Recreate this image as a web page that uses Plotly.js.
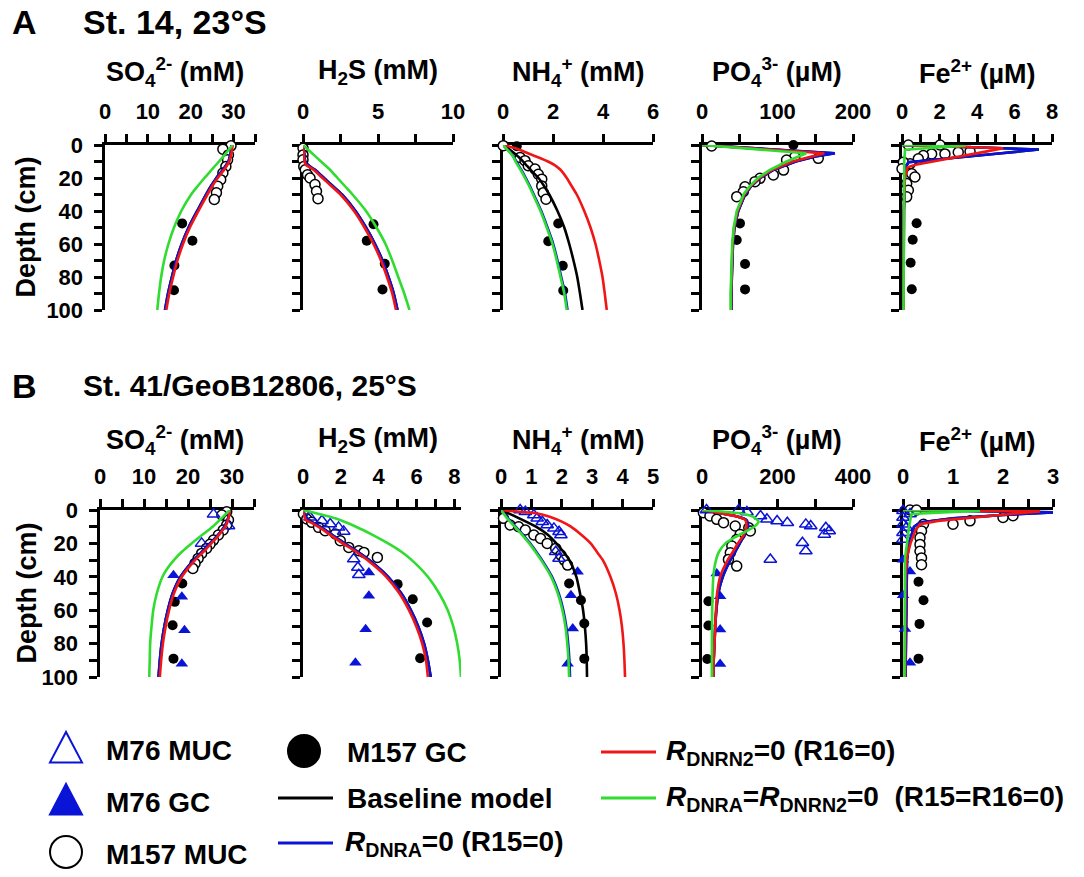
<!DOCTYPE html>
<html>
<head>
<meta charset="utf-8">
<script src="https://cdn.plot.ly/plotly-3.0.1.min.js"></script>
<style>html,body{margin:0;padding:0;background:#fff;}#chart{width:1084px;height:877px;}</style>
</head>
<body>
<div id="chart"></div>
<script>
// ================= DATA =================
const depthTicks = [0,20,40,60,80,100];
const depthMinor = [10,30,50,70,90];

// ---- Row A: St. 14, 23°S ----
// SO4 (mM)
const A_SO4_m157muc_depth = [0.5, 2.5, 6, 9, 13, 17, 21, 25, 29, 33];
const A_SO4_m157muc_conc  = [29.4, 27.5, 28.8, 28.6, 28.2, 27.5, 27.0, 26.3, 26.0, 25.5];
const A_SO4_m157gc_depth  = [47.5, 58, 73, 88];
const A_SO4_m157gc_conc   = [18.0, 20.4, 16.2, 16.1];
const A_SO4_model_depth   = [0,5,10,15,20,25,30,40,50,60,70,80,90,100];
const A_SO4_base  = [29.6, 29.3, 28.8, 27.5, 26.0, 24.7, 23.6, 21.5, 19.5, 17.9, 16.6, 15.6, 14.7, 14.0];
const A_SO4_dnra  = [29.6, 29.3, 28.8, 27.5, 26.0, 24.7, 23.6, 21.5, 19.5, 17.9, 16.6, 15.6, 14.7, 14.0];
const A_SO4_dnrn2 = [29.8, 29.5, 29.0, 27.8, 26.3, 25.0, 23.9, 21.8, 19.8, 18.2, 16.9, 15.9, 15.0, 14.3];
const A_SO4_both  = [29.8, 28.2, 26.6, 24.9, 23.2, 21.6, 20.1, 17.8, 16.1, 14.8, 13.8, 13.1, 12.6, 12.2];

// H2S (mM)
const A_H2S_m157muc_depth = [2, 6, 9, 13, 15, 18, 20, 24, 28, 32.5];
const A_H2S_m157muc_conc  = [0.0, 0.0, 0.0, 0.05, 0.15, 0.3, 0.47, 0.8, 0.9, 1.0];
const A_H2S_m157gc_depth  = [48, 58, 72, 87.6];
const A_H2S_m157gc_conc   = [4.7, 4.25, 5.45, 5.3];
const A_H2S_model_depth   = [0,5,10,12,15,20,25,30,40,50,60,70,80,90,100];
const A_H2S_base  = [0, 0.08, 0.15, 0.3, 0.8, 1.4, 2.0, 2.6, 3.5, 4.2, 4.8, 5.3, 5.7, 6.05, 6.3];
const A_H2S_dnra  = [0, 0.08, 0.15, 0.3, 0.8, 1.4, 2.0, 2.6, 3.5, 4.2, 4.8, 5.3, 5.7, 6.05, 6.3];
const A_H2S_dnrn2 = [0, 0.05, 0.1, 0.2, 0.7, 1.3, 1.9, 2.5, 3.4, 4.1, 4.7, 5.2, 5.6, 5.95, 6.2];
const A_H2S_both_depth = [0,5,10,15,20,25,30,40,50,60,70,80,90,100];
const A_H2S_both  = [0, 0.6, 1.2, 1.8, 2.3, 2.8, 3.3, 4.2, 4.9, 5.5, 5.95, 6.35, 6.75, 7.1];

// NH4 (mM)
const A_NH4_m157muc_depth = [0.4, 7.5, 9.5, 12.6, 14.6, 17.7, 20.7, 24.8, 28.9, 32.9];
const A_NH4_m157muc_conc  = [0.01, 0.68, 0.88, 1.01, 1.28, 1.41, 1.55, 1.55, 1.61, 1.72];
const A_NH4_m157gc_depth  = [0.8, 47.6, 58.3, 73.2, 88.2];
const A_NH4_m157gc_conc   = [0.55, 2.21, 1.81, 2.39, 2.41];
const A_NH4_model_depth   = [0,2,5,8,10,12,15,20,25,30,40,50,60,70,80,90,100];
const A_NH4_base  = [0, 0.2, 0.45, 0.68, 0.8, 0.92, 1.1, 1.42, 1.65, 1.85, 2.18, 2.45, 2.65, 2.82, 2.97, 3.08, 3.18];
const A_NH4_dnra  = [0, 0.13, 0.32, 0.46, 0.53, 0.61, 0.73, 0.91, 1.08, 1.23, 1.53, 1.78, 2.01, 2.18, 2.33, 2.48, 2.58];
const A_NH4_dnrn2 = [0, 0.5, 1.0, 1.5, 1.8, 2.05, 2.3, 2.55, 2.75, 2.95, 3.25, 3.5, 3.7, 3.85, 3.98, 4.07, 4.15];
const A_NH4_both  = [0, 0.12, 0.3, 0.44, 0.5, 0.58, 0.7, 0.88, 1.05, 1.2, 1.5, 1.75, 1.98, 2.15, 2.3, 2.45, 2.55];

// PO4 (µM)
const A_PO4_m157muc_depth = [0.6, 8.1, 7.1, 9.1, 15.2, 18.2, 20.2, 22.2, 25.3, 28.3, 31.3];
const A_PO4_m157muc_conc  = [12.8, 154, 123, 112, 108, 94.5, 76.8, 70.2, 57, 54.7, 46];
const A_PO4_m157gc_depth  = [0, 47.5, 57.6, 72.1, 87.5];
const A_PO4_m157gc_conc   = [121, 50.3, 46, 57, 57];
const A_PO4_model_depth   = [0,5,7,10,15,20,25,30,40,50,60,70,80,90,100];
const A_PO4_base  = [0, 176, 150, 124, 95, 77, 65, 57, 48, 43, 41, 40, 39.5, 39, 39];
const A_PO4_dnra  = [0, 176, 150, 124, 95, 77, 65, 57, 48, 43, 41, 40, 39.5, 39, 39];
const A_PO4_dnrn2 = [0, 162, 145, 120, 93, 76, 64, 56, 47, 42.5, 40.5, 39.5, 39, 38.5, 38.5];
const A_PO4_both  = [0, 138, 128, 112, 90, 74, 63, 55, 46, 42, 40, 39, 38.5, 38, 38];

// Fe2+ (µM)
const A_Fe_m157muc_depth = [0, 0, 4.4, 4, 5.4, 5.4, 6.4, 8.4, 11.4, 10.4, 14.4, 17.4, 19.4, 23.4, 27.4, 31.4];
const A_Fe_m157muc_conc  = [0.34, 2.03, 3.0, 3.63, 2.29, 1.58, 1.14, 0.87, 0.43, 0.07, 0.0, 0.52, 0.69, 0.25, 0.34, 0.25];
const A_Fe_m157gc_depth  = [47.4, 57.4, 71.4, 87.4];
const A_Fe_m157gc_conc   = [0.78, 0.57, 0.46, 0.52];
const A_Fe_dnra_depth = [0, 1, 2.7, 5, 7, 9, 10.5, 13, 20, 40, 100];
const A_Fe_base  = [0, 2.6, 7.3, 5.3, 3.4, 1.55, 0.35, 0.2, 0.15, 0.1, 0.08];
const A_Fe_dnra  = [0, 2.6, 7.3, 5.3, 3.4, 1.55, 0.35, 0.2, 0.15, 0.1, 0.08];
const A_Fe_dnrn2_depth = [0, 1, 2, 4, 6, 8, 10, 12, 13.5, 20, 40, 100];
const A_Fe_dnrn2 = [0, 2.7, 5.4, 4.46, 3.53, 2.6, 1.65, 0.72, 0.3, 0.15, 0.1, 0.08];
const A_Fe_both_depth = [0, 0.3, 2.8, 10, 100];
const A_Fe_both  = [0, 3.4, 0.16, 0.12, 0.08];

// ---- Row B: St. 41/GeoB12806, 25°S ----
// SO4 (mM)
const B_SO4_m157muc_depth = [1, 3, 6, 9, 12, 15, 18, 20.5, 23, 26, 29, 32, 35];
const B_SO4_m157muc_conc  = [28.8, 27.7, 29.2, 28.8, 28.0, 26.9, 25.8, 25.0, 24.2, 23.1, 22.3, 21.6, 21.1];
const B_SO4_m76muc_depth  = [2.6, 9.6, 20];
const B_SO4_m76muc_conc   = [25.8, 29.2, 23.1];
const B_SO4_m76gc_depth   = [39, 52, 72, 92];
const B_SO4_m76gc_conc    = [16.7, 18.6, 19.2, 18.6];
const B_SO4_m157gc_depth  = [44, 55, 69, 89];
const B_SO4_m157gc_conc   = [18.7, 17.0, 16.5, 16.7];
const B_SO4_model_depth   = [0,5,10,15,20,25,30,40,50,60,70,80,90,100];
const B_SO4_base  = [29.5, 29.1, 28.3, 26.8, 25.0, 23.2, 21.3, 18.3, 16.5, 15.4, 14.6, 14.0, 13.6, 13.3];
const B_SO4_dnra  = [29.5, 29.1, 28.3, 26.8, 25.0, 23.2, 21.3, 18.3, 16.5, 15.4, 14.6, 14.0, 13.6, 13.3];
const B_SO4_dnrn2 = [29.5, 29.2, 28.5, 27.0, 25.3, 23.5, 21.6, 18.6, 16.8, 15.7, 14.9, 14.3, 13.9, 13.6];
const B_SO4_both_depth = [0,5,10,15,20,25,30,35,40,50,60,70,80,90,100];
const B_SO4_both  = [29.5, 27.6, 25.6, 23.2, 20.8, 18.6, 16.8, 15.3, 14.2, 12.9, 12.1, 11.7, 11.4, 11.3, 11.2];

// H2S (mM)
const B_H2S_m157muc_depth = [2.4, 5.4, 7.4, 10.4, 12.4, 14.4, 18.4, 22.4, 24.4, 25.4, 28.4];
const B_H2S_m157muc_conc  = [0.02, 0.2, 0.46, 0.82, 1.17, 1.71, 1.97, 2.42, 2.95, 3.22, 3.93];
const B_H2S_m76muc_depth  = [4.4, 6.4, 8.4, 10.4, 12.8, 29.4, 34.4, 38.8];
const B_H2S_m76muc_conc   = [0.37, 1.0, 1.44, 1.88, 2.15, 2.68, 2.9, 2.95];
const B_H2S_m76gc_depth   = [37.4, 51.4, 71.4, 91.4];
const B_H2S_m76gc_conc    = [3.48, 3.48, 3.31, 2.77];
const B_H2S_m157gc_depth  = [44.4, 53.4, 67.4, 88.8];
const B_H2S_m157gc_conc   = [5.0, 5.8, 6.56, 6.19];
const B_H2S_model_depth   = [0,3,6,8,10,15,20,25,30,40,50,60,70,80,90,100];
const B_H2S_base  = [0, 0.1, 0.3, 0.6, 0.9, 1.55, 2.2, 2.9, 3.5, 4.5, 5.2, 5.7, 6.1, 6.4, 6.6, 6.75];
const B_H2S_dnra  = [0, 0.1, 0.3, 0.6, 0.9, 1.55, 2.2, 2.9, 3.5, 4.5, 5.2, 5.7, 6.1, 6.4, 6.6, 6.75];
const B_H2S_dnrn2 = [0, 0.05, 0.15, 0.5, 0.8, 1.45, 2.1, 2.8, 3.4, 4.4, 5.1, 5.6, 6.0, 6.3, 6.5, 6.6];
const B_H2S_both_depth = [0,5,10,15,20,25,30,40,50,60,70,80,90,100];
const B_H2S_both  = [0, 1.7, 2.8, 3.7, 4.5, 5.2, 5.75, 6.6, 7.2, 7.65, 7.95, 8.15, 8.28, 8.35];

// NH4 (mM)
const B_NH4_m157muc_depth = [5, 9, 10, 12, 15, 17, 20, 23, 27, 30, 33];
const B_NH4_m157muc_conc  = [0.08, 0.3, 0.58, 0.8, 1.08, 1.3, 1.52, 1.8, 1.97, 2.08, 2.19];
const B_NH4_m76muc_depth  = [0, 1, 3, 5, 7, 9, 11, 13, 15, 25, 29];
const B_NH4_m76muc_conc   = [0.63, 0.8, 1.08, 1.19, 1.36, 1.52, 1.74, 1.91, 1.97, 1.8, 1.91];
const B_NH4_m76gc_depth   = [37, 51, 71, 92];
const B_NH4_m76gc_conc    = [2.52, 2.3, 2.36, 2.19];
const B_NH4_m157gc_depth  = [44, 54, 68, 89];
const B_NH4_m157gc_conc   = [2.24, 2.63, 2.74, 2.74];
const B_NH4_model_depth   = [0,2,5,10,15,20,25,30,40,50,60,70,80,90,100];
const B_NH4_base  = [0, 0.25, 0.6, 1.15, 1.55, 1.82, 2.05, 2.25, 2.48, 2.6, 2.7, 2.76, 2.8, 2.82, 2.83];
const B_NH4_dnra  = [0, 0.1, 0.23, 0.48, 0.73, 0.96, 1.16, 1.35, 1.68, 1.9, 2.05, 2.15, 2.21, 2.25, 2.27];
const B_NH4_both  = [0, 0.08, 0.2, 0.45, 0.7, 0.93, 1.13, 1.32, 1.65, 1.87, 2.02, 2.12, 2.18, 2.22, 2.24];
const B_NH4_dnrn2_depth = [0,1,2,4,7,10,15,20,25,30,40,50,60,70,80,90,100];
const B_NH4_dnrn2 = [0, 0.6, 1.15, 1.6, 2.0, 2.3, 2.65, 2.95, 3.15, 3.35, 3.6, 3.78, 3.9, 3.98, 4.03, 4.06, 4.08];

// PO4 (µM)
const B_PO4_m76muc_depth  = [0, 0, 1.2, 3.6, 5.6, 6.6, 7.6, 8.6, 9.6, 10.6, 12.6, 14.6, 19.6, 24.6, 29.6];
const B_PO4_m76muc_conc   = [12, 97, 119, 155, 172, 199, 226, 275, 288, 328, 337, 324, 266, 275, 181];
const B_PO4_m157muc_depth = [1.6, 3.6, 5.6, 7.6, 9.6, 10.6, 12.6, 14.6, 17.6, 21.6, 25.6, 29.6, 33.6];
const B_PO4_m157muc_conc  = [3.6, 21, 39, 57, 88, 124, 128, 101, 92, 79, 75, 70, 92];
const B_PO4_m76gc_depth   = [38, 51.6, 71.6, 92.2];
const B_PO4_m76gc_conc    = [39, 48, 48, 48];
const B_PO4_m157gc_depth  = [54.6, 69.2, 89.2];
const B_PO4_m157gc_conc   = [17, 17, 14];
const B_PO4_model_depth   = [0,2,4,6,10,15,20,25,30,40,50,60,70,80,90,100];
const B_PO4_base  = [0, 50, 95, 118, 122, 112, 100, 88, 75, 55, 43, 38, 35, 33, 31, 30];
const B_PO4_dnra  = [0, 50, 95, 118, 122, 112, 100, 88, 75, 55, 43, 38, 35, 33, 31, 30];
const B_PO4_dnrn2 = [0, 50, 95, 115, 118, 110, 95, 82, 68, 48, 40, 37, 35, 33, 31, 30];
const B_PO4_both_depth = [0,2,4,7,10,13,16,20,25,30,40,60,100];
const B_PO4_both  = [0, 100, 135, 150, 138, 115, 90, 62, 45, 37, 30, 27, 26];

// Fe2+ (µM)
const B_Fe_m157muc_depth = [0, 0, 3.4, 4.5, 6.5, 8.5, 8.5, 12.5, 16.6, 20.6, 24.7, 28.7, 32.8];
const B_Fe_m157muc_conc  = [0.14, 0.27, 2.2, 2.0, 1.34, 1.0, 0.41, 0.37, 0.34, 0.34, 0.34, 0.37, 0.37];
const B_Fe_m76muc_depth  = [0.4, 2.4, 4.5, 8.5, 10.5, 13.6, 17.6];
const B_Fe_m76muc_conc   = [0.0, 0.14, 0.0, 0.0, 0.07, 0.0, 0.0];
const B_Fe_m76gc_depth   = [29.8, 36.8, 51, 71.3, 91.5];
const B_Fe_m76gc_conc    = [0.0, 0.14, 0.0, 0.04, 0.14];
const B_Fe_m157gc_depth  = [43, 54, 68.2, 89];
const B_Fe_m157gc_conc   = [0.31, 0.41, 0.33, 0.31];
const B_Fe_dnra_depth = [0, 1.4, 3, 5, 7.5, 10, 20, 30, 100];
const B_Fe_base  = [0, 3.0, 2.0, 1.0, 0.34, 0.22, 0.12, 0.08, 0.05];
const B_Fe_dnra  = [0, 3.0, 2.0, 1.0, 0.34, 0.22, 0.12, 0.08, 0.05];
const B_Fe_dnrn2_depth = [0, 0.8, 2.5, 4.5, 6.5, 8.5, 12, 20, 28, 40, 100];
const B_Fe_dnrn2 = [0, 2.74, 2.1, 1.34, 0.7, 0.34, 0.25, 0.15, 0.08, 0.05, 0.04];
const B_Fe_both_depth = [0, 0.4, 2.4, 10, 20, 29, 100];
const B_Fe_both  = [0, 1.54, 0.17, 0.12, 0.08, 0.04, 0.03];

// Axis ticks (labelled ticks and unlabelled minor ticks)
const SO4_ticks = [0,10,20,30];        const SO4_minor = [5,15,25,35];
const A_H2S_ticks = [0,5,10];          const A_H2S_minor = [2.5,7.5];
const A_NH4_ticks = [0,2,4,6];         const A_NH4_minor = [];
const A_PO4_ticks = [0,100,200];       const A_PO4_minor = [50,150];
const A_Fe_ticks = [0,2,4,6,8];        const A_Fe_minor = [1,3,5,7];
const B_H2S_ticks = [0,2,4,6,8];       const B_H2S_minor = [1,3,5,7];
const B_NH4_ticks = [0,1,2,3,4,5];     const B_NH4_minor = [];
const B_PO4_ticks = [0,200,400];       const B_PO4_minor = [100,300];
const B_Fe_ticks = [0,1,2,3];          const B_Fe_minor = [0.5,1.5,2.5];

// Text
const rowLabels = ['A', 'B'];
const rowTitles = ['St. 14, 23°S', 'St. 41/GeoB12806, 25°S'];
const panelTitles = ['SO<sub>4</sub><sup>2-</sup> (mM)', 'H<sub>2</sub>S (mM)', 'NH<sub>4</sub><sup>+</sup> (mM)', 'PO<sub>4</sub><sup>3-</sup> (µM)', 'Fe<sup>2+</sup> (µM)'];
const depthTitle = 'Depth (cm)';
const legendNames = {
  m76muc: 'M76 MUC', m76gc: 'M76 GC', m157muc: 'M157 MUC', m157gc: 'M157 GC',
  base: 'Baseline model', dnra: '<i>R</i><sub>DNRA</sub>=0 (R15=0)',
  dnrn2: '<i>R</i><sub>DNRN2</sub>=0 (R16=0)', both: '<i>R</i><sub>DNRA</sub>=<i>R</i><sub>DNRN2</sub>=0  (R15=R16=0)'
};

// ================= BUILD =================
const W = 1084, H = 877;
const px = x => x / W, py = y => 1 - y / H;
const FONT = 'Arial, "Liberation Sans", Helvetica, sans-serif';
const BLUE = '#0a14d6', RED = '#f01616', GREEN = '#2fdc2f', BLACK = '#000000';

const markerStyles = {
  m157muc: {symbol: 'circle', size: 10, color: '#ffffff', line: {color: BLACK, width: 1.5}},
  m157gc:  {symbol: 'circle', size: 10, color: BLACK, line: {width: 0}},
  m76muc:  {symbol: 'triangle-up-open', size: 11, color: BLUE, line: {color: BLUE, width: 1.5}},
  m76gc:   {symbol: 'triangle-up', size: 11, color: BLUE, line: {width: 0}}
};
const lineColors = {base: BLACK, dnra: BLUE, dnrn2: RED, both: GREEN};

const panels = [
  // row A
  {row: 0, dom: [105, 255], range: [0, 35], tv: SO4_ticks, mv: SO4_minor, shape: 'spline',
   pts: {m157muc: [A_SO4_m157muc_depth, A_SO4_m157muc_conc], m157gc: [A_SO4_m157gc_depth, A_SO4_m157gc_conc]},
   lines: {base: [A_SO4_model_depth, A_SO4_base], dnra: [A_SO4_model_depth, A_SO4_dnra], dnrn2: [A_SO4_model_depth, A_SO4_dnrn2], both: [A_SO4_model_depth, A_SO4_both]}},
  {row: 0, dom: [303, 453], range: [0, 10], tv: A_H2S_ticks, mv: A_H2S_minor, shape: 'spline',
   pts: {m157muc: [A_H2S_m157muc_depth, A_H2S_m157muc_conc], m157gc: [A_H2S_m157gc_depth, A_H2S_m157gc_conc]},
   lines: {base: [A_H2S_model_depth, A_H2S_base], dnra: [A_H2S_model_depth, A_H2S_dnra], dnrn2: [A_H2S_model_depth, A_H2S_dnrn2], both: [A_H2S_both_depth, A_H2S_both]}},
  {row: 0, dom: [503, 653], range: [0, 6], tv: A_NH4_ticks, mv: A_NH4_minor, shape: 'spline',
   pts: {m157muc: [A_NH4_m157muc_depth, A_NH4_m157muc_conc], m157gc: [A_NH4_m157gc_depth, A_NH4_m157gc_conc]},
   lines: {base: [A_NH4_model_depth, A_NH4_base], dnra: [A_NH4_model_depth, A_NH4_dnra], dnrn2: [A_NH4_model_depth, A_NH4_dnrn2], both: [A_NH4_model_depth, A_NH4_both]}},
  {row: 0, dom: [702, 853], range: [0, 200], tv: A_PO4_ticks, mv: A_PO4_minor, shape: 'linear',
   pts: {m157muc: [A_PO4_m157muc_depth, A_PO4_m157muc_conc], m157gc: [A_PO4_m157gc_depth, A_PO4_m157gc_conc]},
   lines: {base: [A_PO4_model_depth, A_PO4_base], dnra: [A_PO4_model_depth, A_PO4_dnra], dnrn2: [A_PO4_model_depth, A_PO4_dnrn2], both: [A_PO4_model_depth, A_PO4_both]}},
  {row: 0, dom: [902, 1052], range: [0, 8], tv: A_Fe_ticks, mv: A_Fe_minor, shape: 'linear',
   pts: {m157muc: [A_Fe_m157muc_depth, A_Fe_m157muc_conc], m157gc: [A_Fe_m157gc_depth, A_Fe_m157gc_conc]},
   lines: {base: [A_Fe_dnra_depth, A_Fe_base], dnra: [A_Fe_dnra_depth, A_Fe_dnra], dnrn2: [A_Fe_dnrn2_depth, A_Fe_dnrn2], both: [A_Fe_both_depth, A_Fe_both]}},
  // row B
  {row: 1, dom: [100, 254], range: [0, 35], tv: SO4_ticks, mv: SO4_minor, shape: 'spline',
   pts: {m157muc: [B_SO4_m157muc_depth, B_SO4_m157muc_conc], m157gc: [B_SO4_m157gc_depth, B_SO4_m157gc_conc], m76muc: [B_SO4_m76muc_depth, B_SO4_m76muc_conc], m76gc: [B_SO4_m76gc_depth, B_SO4_m76gc_conc]},
   lines: {base: [B_SO4_model_depth, B_SO4_base], dnra: [B_SO4_model_depth, B_SO4_dnra], dnrn2: [B_SO4_model_depth, B_SO4_dnrn2], both: [B_SO4_both_depth, B_SO4_both]}},
  {row: 1, dom: [303, 461], range: [0, 8.35], tv: B_H2S_ticks, mv: B_H2S_minor, shape: 'spline',
   pts: {m157muc: [B_H2S_m157muc_depth, B_H2S_m157muc_conc], m157gc: [B_H2S_m157gc_depth, B_H2S_m157gc_conc], m76muc: [B_H2S_m76muc_depth, B_H2S_m76muc_conc], m76gc: [B_H2S_m76gc_depth, B_H2S_m76gc_conc]},
   lines: {base: [B_H2S_model_depth, B_H2S_base], dnra: [B_H2S_model_depth, B_H2S_dnra], dnrn2: [B_H2S_model_depth, B_H2S_dnrn2], both: [B_H2S_both_depth, B_H2S_both]}},
  {row: 1, dom: [501, 653], range: [0, 5], tv: B_NH4_ticks, mv: B_NH4_minor, shape: 'spline',
   pts: {m157muc: [B_NH4_m157muc_depth, B_NH4_m157muc_conc], m157gc: [B_NH4_m157gc_depth, B_NH4_m157gc_conc], m76muc: [B_NH4_m76muc_depth, B_NH4_m76muc_conc], m76gc: [B_NH4_m76gc_depth, B_NH4_m76gc_conc]},
   lines: {base: [B_NH4_model_depth, B_NH4_base], dnra: [B_NH4_model_depth, B_NH4_dnra], dnrn2: [B_NH4_dnrn2_depth, B_NH4_dnrn2], both: [B_NH4_model_depth, B_NH4_both]}},
  {row: 1, dom: [702, 853], range: [0, 400], tv: B_PO4_ticks, mv: B_PO4_minor, shape: 'spline',
   pts: {m157muc: [B_PO4_m157muc_depth, B_PO4_m157muc_conc], m157gc: [B_PO4_m157gc_depth, B_PO4_m157gc_conc], m76muc: [B_PO4_m76muc_depth, B_PO4_m76muc_conc], m76gc: [B_PO4_m76gc_depth, B_PO4_m76gc_conc]},
   lines: {base: [B_PO4_model_depth, B_PO4_base], dnra: [B_PO4_model_depth, B_PO4_dnra], dnrn2: [B_PO4_model_depth, B_PO4_dnrn2], both: [B_PO4_both_depth, B_PO4_both]}},
  {row: 1, dom: [903, 1053], range: [0, 3], tv: B_Fe_ticks, mv: B_Fe_minor, shape: 'linear',
   pts: {m157muc: [B_Fe_m157muc_depth, B_Fe_m157muc_conc], m157gc: [B_Fe_m157gc_depth, B_Fe_m157gc_conc], m76muc: [B_Fe_m76muc_depth, B_Fe_m76muc_conc], m76gc: [B_Fe_m76gc_depth, B_Fe_m76gc_conc]},
   lines: {base: [B_Fe_dnra_depth, B_Fe_base], dnra: [B_Fe_dnra_depth, B_Fe_dnra], dnrn2: [B_Fe_dnrn2_depth, B_Fe_dnrn2], both: [B_Fe_both_depth, B_Fe_both]}}
];

const rowY = [[145, 310], [510, 677]];       // pixel top/bottom of depth axis
const rowTitleY = [72, 440];
const rowHeadY = [22, 386];
const rowHeadSize = [34, 30];
const titleX = [175, 378, 578, 777, 977];

const traces = [];
const layout = {
  width: W, height: H, margin: {l: 0, r: 0, t: 0, b: 0},
  paper_bgcolor: '#ffffff', plot_bgcolor: 'rgba(0,0,0,0)',
  showlegend: false, font: {family: FONT, color: BLACK},
  annotations: [], shapes: []
};

panels.forEach((p, i) => {
  const n = i + 1;
  const xa = 'x' + (n === 1 ? '' : n), ya = 'y' + (n === 1 ? '' : n);
  const xk = 'xaxis' + (n === 1 ? '' : n), yk = 'yaxis' + (n === 1 ? '' : n);
  const firstInRow = (i % 5 === 0);
  const ry = rowY[p.row];
  layout[xk] = {
    domain: [px(p.dom[0]), px(p.dom[1])], range: p.range, side: 'top', anchor: ya,
    showline: true, linewidth: 3.5, linecolor: BLACK, ticks: 'outside', ticklen: 8, tickwidth: 3, tickcolor: BLACK,
    tickmode: 'array', tickvals: p.tv, ticktext: p.tv.map(String), ticklabelstandoff: 6,
    minor: {tickmode: 'array', tickvals: p.mv, ticks: 'outside', ticklen: 8, tickwidth: 3, tickcolor: BLACK, showgrid: false},
    tickfont: {family: FONT, size: 22, color: BLACK, weight: 'bold'},
    showgrid: false, zeroline: false, fixedrange: true, layer: 'below traces'
  };
  layout[yk] = {
    domain: [py(ry[1]), py(ry[0])], range: [100, 0], anchor: xa,
    showline: true, linewidth: 3.5, linecolor: BLACK, ticks: 'outside', ticklen: 8, tickwidth: 3, tickcolor: BLACK,
    tickmode: 'array', tickvals: depthTicks, ticktext: depthTicks.map(String), showticklabels: firstInRow, ticklabelstandoff: 6,
    minor: {tickmode: 'array', tickvals: depthMinor, ticks: 'outside', ticklen: 8, tickwidth: 3, tickcolor: BLACK, showgrid: false},
    tickfont: {family: FONT, size: 22, color: BLACK, weight: 'bold'},
    showgrid: false, zeroline: false, fixedrange: true, layer: 'below traces'
  };
  ['m157muc', 'm157gc', 'm76muc', 'm76gc'].forEach(k => {
    if (!p.pts[k]) return;
    traces.push({type: 'scatter', mode: 'markers', x: p.pts[k][1], y: p.pts[k][0], xaxis: xa, yaxis: ya,
      marker: markerStyles[k], cliponaxis: false, showlegend: false, hoverinfo: 'skip', name: legendNames[k]});
  });
  ['base', 'dnra', 'dnrn2', 'both'].forEach(k => {
    traces.push({type: 'scatter', mode: 'lines', x: p.lines[k][1], y: p.lines[k][0], xaxis: xa, yaxis: ya,
      line: {color: lineColors[k], width: 2.6, shape: p.shape, smoothing: 0.6}, cliponaxis: false,
      showlegend: false, hoverinfo: 'skip', name: legendNames[k]});
  });
  layout.annotations.push({xref: 'paper', yref: 'paper', x: px(titleX[i % 5]), y: py(rowTitleY[p.row]),
    xanchor: 'center', yanchor: 'middle', showarrow: false, text: panelTitles[i % 5],
    font: {family: FONT, size: 27, color: BLACK, weight: 'bold'}});
});

// Row headings and depth titles
[0, 1].forEach(r => {
  layout.annotations.push({xref: 'paper', yref: 'paper', x: px(10), y: py(rowHeadY[r]), xanchor: 'left', yanchor: 'middle',
    showarrow: false, text: rowLabels[r], font: {family: FONT, size: 34, color: BLACK, weight: 'bold'}});
  layout.annotations.push({xref: 'paper', yref: 'paper', x: px(81), y: py(rowHeadY[r]), xanchor: 'left', yanchor: 'middle',
    showarrow: false, text: rowTitles[r], font: {family: FONT, size: rowHeadSize[r], color: BLACK, weight: 'bold'}});
  const ry = rowY[r];
  layout.annotations.push({xref: 'paper', yref: 'paper', x: px(26), y: py((ry[0] + ry[1]) / 2), xanchor: 'center', yanchor: 'middle',
    showarrow: false, text: depthTitle, textangle: -90, font: {family: FONT, size: 27, color: BLACK, weight: 'bold'}});
});

// ---------- Legend (keys drawn as layout shapes) ----------
const legFont = {family: FONT, size: 28, color: BLACK, weight: 'bold'};
function legText(x, y, t) {
  layout.annotations.push({xref: 'paper', yref: 'paper', x: px(x), y: py(y), xanchor: 'left', yanchor: 'middle',
    showarrow: false, text: t, font: legFont});
}
function triPath(cx, cy, r) {
  return 'M' + px(cx - r) + ',' + py(cy + r * 0.9) + ' L' + px(cx + r) + ',' + py(cy + r * 0.9) + ' L' + px(cx) + ',' + py(cy - r) + ' Z';
}
function legTri(cx, cy, filled) {
  layout.shapes.push({type: 'path', xref: 'paper', yref: 'paper', path: triPath(cx, cy, 16),
    line: {color: BLUE, width: 2}, fillcolor: filled ? BLUE : 'rgba(0,0,0,0)'});
}
function legCirc(cx, cy, filled) {
  layout.shapes.push({type: 'circle', xref: 'paper', yref: 'paper', x0: px(cx - 16), x1: px(cx + 16), y0: py(cy + 16), y1: py(cy - 16),
    line: {color: BLACK, width: 2}, fillcolor: filled ? BLACK : '#ffffff'});
}
function legLine(x0, x1, y, c) {
  layout.shapes.push({type: 'line', xref: 'paper', yref: 'paper', x0: px(x0), x1: px(x1), y0: py(y), y1: py(y),
    line: {color: c, width: 3}});
}
legTri(66, 748, false);  legText(104, 750, legendNames.m76muc);
legTri(66, 800, true);   legText(104, 802, legendNames.m76gc);
legCirc(66, 852, false); legText(104, 854, legendNames.m157muc);
legCirc(304, 751, true); legText(345, 752, legendNames.m157gc);
legLine(278, 333, 798, BLACK); legText(345, 798, legendNames.base);
legLine(278, 333, 843, BLUE);  legText(343, 843, legendNames.dnra);
legLine(601, 656, 752, RED);   legText(664, 752, legendNames.dnrn2);
legLine(601, 656, 798, GREEN); legText(664, 798, legendNames.both);

Plotly.newPlot('chart', traces, layout, {displayModeBar: false, staticPlot: true});
</script>
</body>
</html>
